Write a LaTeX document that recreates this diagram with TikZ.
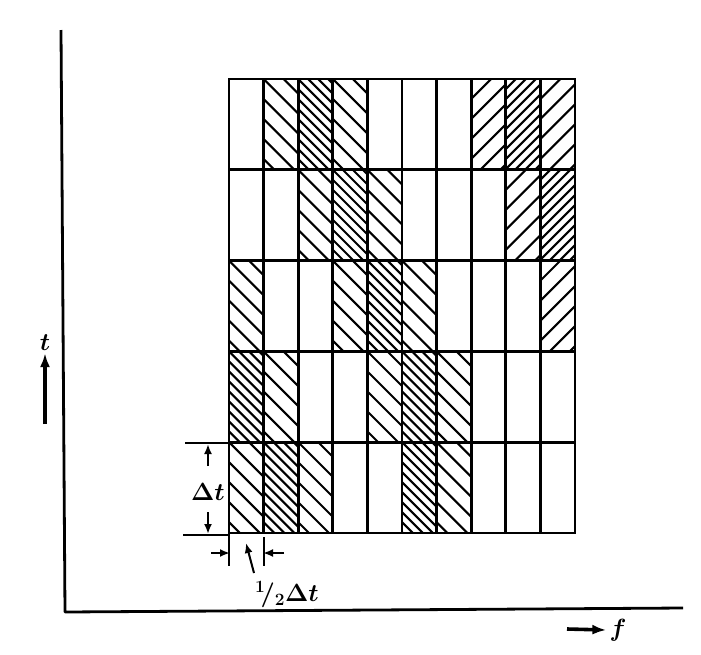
\documentclass[tikz,border=0pt]{standalone}
\usetikzlibrary{arrows.meta,positioning}
\newcommand{\cw}{34.6}
\newcommand{\ch}{90.8}
% hatch one cell: column, row, second start value, direction (1 = \, -1 = /)
\newcommand{\hatchcell}[4]{%
  \begin{scope}
    \clip ({229+(#1-1)*\cw},{79+(#2-1)*\ch}) rectangle ++(\cw,\ch);
    \foreach \h in {-100,#3,...,150}
      \draw[hatchline] ({229+(#1-1)*\cw+\h},{79+(#2-1)*\ch}) -- ++({#4*110},110);
  \end{scope}}

\begin{document}
\begin{tikzpicture}[x=1pt,y=-1pt,
    gridline/.style={line width=2.8pt},
    hatchline/.style={line width=2.1pt},
    axisline/.style={line width=2.8pt,line join=round},
    dimline/.style={line width=2pt},
    dimarrow/.style={line width=2pt,-{Latex[length=10pt,width=8pt]}},
    bigarrow/.style={line width=3.6pt,-{Latex[length=14pt,width=10pt]}},
    lbl/.style={inner sep=0pt,font=\fontsize{28}{28}\selectfont\boldmath}]
  \useasboundingbox (0,0) rectangle (701,654);

  % hatched cells: column/row/step/direction
  \foreach \c/\r/\st/\d in {2/1/-80/1, 3/1/-90/1, 4/1/-80/1, 8/1/-80/-1, 9/1/-90/-1, 10/1/-80/-1,
                            3/2/-80/1, 4/2/-90/1, 5/2/-80/1, 9/2/-80/-1, 10/2/-90/-1,
                            1/3/-80/1, 4/3/-80/1, 5/3/-90/1, 6/3/-80/1, 10/3/-80/-1,
                            1/4/-90/1, 2/4/-80/1, 5/4/-80/1, 6/4/-90/1, 7/4/-80/1,
                            1/5/-80/1, 2/5/-90/1, 3/5/-80/1, 6/5/-90/1, 7/5/-80/1}
    {\hatchcell{\c}{\r}{\st}{\d}}

  % grid
  \foreach \i in {1,...,9}
    \draw[gridline] ({229+\i*\cw},79) -- ({229+\i*\cw},533);
  \foreach \j in {1,...,4}
    \draw[gridline] (229,{79+\j*\ch}) -- (575,{79+\j*\ch});
  \draw[gridline] (229,79) rectangle (575,533);

  % axes
  \coordinate (yTop) at (61,30);
  \coordinate (origin) at (65,612);
  \coordinate (xEnd) at (683,608);
  \draw[axisline] (yTop) -- (origin) -- (xEnd);

  % axis labels
  \node[lbl,font=\fontsize{34}{34}\selectfont\boldmath] (tlab) at (45,343) {$t$};
  \coordinate (tTail) at (45,424);
  \draw[bigarrow] (tTail) -- ([yshift=-2pt]tlab.south);
  \node[lbl,font=\fontsize{34}{34}\selectfont\boldmath] (flab) at (618,630) {$f$};
  \coordinate (fTail) at (567,629);
  \draw[bigarrow] (fTail) -- ([xshift=-3pt]flab.west);

  % time step
  \coordinate (dtTopL) at (185,443);
  \coordinate (dtTopR) at (229,443);
  \coordinate (dtBotL) at (183,535);
  \coordinate (dtBotR) at (229,535);
  \draw[dimline] (dtTopL) -- (dtTopR);
  \draw[dimline] (dtBotL) -- (dtBotR);
  \node[lbl] (dt) at (208,492) {$\Delta t$};
  \coordinate (dtUpTail) at (208,466);
  \coordinate (dtUpTip) at (208,444);
  \coordinate (dtDnTail) at (208,512);
  \coordinate (dtDnTip) at (208,534);
  \draw[dimarrow] (dtUpTail) -- (dtUpTip);
  \draw[dimarrow] (dtDnTail) -- (dtDnTip);

  % frequency step
  \coordinate (dfL) at (229,533);
  \coordinate (dfLb) at (229,566);
  \coordinate (dfR) at (264,537);
  \coordinate (dfRb) at (264,566);
  \draw[dimline] (dfL) -- (dfLb);
  \draw[dimline] (dfR) -- (dfRb);
  \coordinate (dfLTail) at (211,553);
  \coordinate (dfLTip) at (230,553);
  \coordinate (dfRTail) at (284,553);
  \coordinate (dfRTip) at (263,553);
  \draw[dimarrow] (dfLTail) -- (dfLTip);
  \draw[dimarrow] (dfRTail) -- (dfRTip);
  \node[lbl,font=\fontsize{25}{25}\selectfont\boldmath] (df) at (287,595) {$^{1}\!/_{2}\Delta t$};
  \coordinate (dfLead) at (254,573);
  \coordinate (dfLeadTip) at (246,543);
  \draw[dimarrow] (dfLead) -- (dfLeadTip);
\end{tikzpicture}
\end{document}
